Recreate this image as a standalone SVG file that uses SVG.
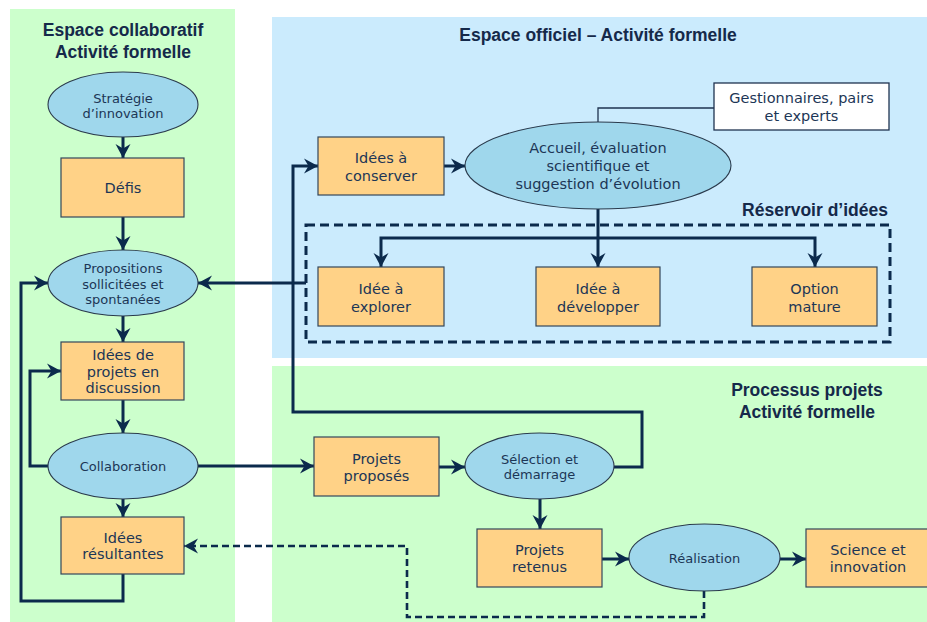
<svg xmlns="http://www.w3.org/2000/svg" width="927" height="622" viewBox="0 0 927 622">
<style>
.panel-g{fill:#ccffcc}
.panel-b{fill:#cbebfd}
.box{fill:#ffd287;stroke:#34465a;stroke-width:1.2}
.ell{fill:#9fd7ec;stroke:#2a3a4c;stroke-width:1.1}
.note{fill:#ffffff;stroke:#1f3350;stroke-width:1.3}
.t{font-family:"DejaVu Sans",Verdana,sans-serif;fill:#1c3656;text-anchor:middle}
.t14{font-size:14.5px}
.t13{font-size:13px}
.title{font-family:"Liberation Sans",Arial,sans-serif;font-weight:bold;font-size:17.5px;fill:#15294a;text-anchor:middle}
.c{fill:none;stroke:#0b2a4c;stroke-width:3;stroke-linejoin:miter}
.thin{fill:none;stroke:#1f3350;stroke-width:1.3}
.dash{fill:none;stroke:#0b2a4c;stroke-width:2.6;stroke-dasharray:7 4}
.res{fill:none;stroke:#0b2a4c;stroke-width:3;stroke-dasharray:9 5}
</style>
<defs>
<marker id="ah" markerUnits="userSpaceOnUse" viewBox="-15 -8 16 16" refX="0" refY="0" markerWidth="16" markerHeight="16" orient="auto">
<path d="M0,0 L-14,-7.5 L-9.5,0 L-14,7.5 Z" fill="#0b2a4c"/>
</marker>
</defs>

<g id="panels">
<rect class="panel-g" x="10" y="9" width="225" height="613"/>
<rect class="panel-b" x="272" y="17" width="655" height="341"/>
<rect class="panel-g" x="272" y="366" width="655" height="256"/>
<text class="title" x="123" y="36">Espace collaboratif</text>
<text class="title" x="123" y="58">Activité formelle</text>
<text class="title" x="598" y="41">Espace officiel – Activité formelle</text>
<text class="title" x="815" y="216">Réservoir d’idées</text>
<text class="title" x="807" y="396">Processus projets</text>
<text class="title" x="807" y="418">Activité formelle</text>
</g>

<g id="reservoir">
<rect class="res" x="306" y="225" width="584" height="117"/>
</g>

<g id="connectors">
<path class="c" d="M123,137 L123,158" marker-end="url(#ah)"/>
<path class="c" d="M123,217 L123,250" marker-end="url(#ah)"/>
<path class="c" d="M123,316 L123,342" marker-end="url(#ah)"/>
<path class="c" d="M123,400 L123,433" marker-end="url(#ah)"/>
<path class="c" d="M123,499 L123,517" marker-end="url(#ah)"/>
<path class="c" d="M123,574 L123,601 L21,601 L21,283 L48,283" marker-end="url(#ah)"/>
<path class="c" d="M48,466 L30,466 L30,371 L61,371" marker-end="url(#ah)"/>
<path class="c" d="M198,466 L314,466" marker-end="url(#ah)"/>
<path class="c" d="M306,283 L198,283" marker-end="url(#ah)"/>
<path class="c" d="M614,467 L642,467 L642,412 L293,412 L293,166 L318,166" marker-end="url(#ah)"/>
<path class="c" d="M444,166 L465,166" marker-end="url(#ah)"/>
<path class="thin" d="M598,122 L598,108 L714,108"/>
<path class="c" d="M598,209 L598,267" marker-end="url(#ah)"/>
<path class="c" d="M598,238 L381,238 L381,267" marker-end="url(#ah)"/>
<path class="c" d="M598,238 L815,238 L815,267" marker-end="url(#ah)"/>
<path class="c" d="M439,467 L465,467" marker-end="url(#ah)"/>
<path class="c" d="M540,499 L540,529" marker-end="url(#ah)"/>
<path class="c" d="M602,559 L629,559" marker-end="url(#ah)"/>
<path class="c" d="M780,559 L806,559" marker-end="url(#ah)"/>
<path class="dash" d="M704,591 L704,617 L407,617 L407,546 L184,546" marker-end="url(#ah)"/>
</g>

<g id="strategie">
<ellipse class="ell" cx="123" cy="104.5" rx="75" ry="32.5"/>
<text class="t t13" x="123" y="103">Stratégie</text>
<text class="t t13" x="123" y="118">d’innovation</text>
</g>
<g id="defis">
<rect class="box" x="61" y="158" width="123" height="59"/>
<text class="t t14" x="123" y="193">Défis</text>
</g>
<g id="propositions">
<ellipse class="ell" cx="123" cy="283" rx="75" ry="33"/>
<text class="t t13" x="123" y="273">Propositions</text>
<text class="t t13" x="123" y="289">sollicitées et</text>
<text class="t t13" x="123" y="304">spontanées</text>
</g>
<g id="idees-projets">
<rect class="box" x="61" y="342" width="123" height="58"/>
<text class="t t14" x="123" y="360">Idées de</text>
<text class="t t14" x="123" y="376.5">projets en</text>
<text class="t t14" x="123" y="393">discussion</text>
</g>
<g id="collaboration">
<ellipse class="ell" cx="123" cy="466" rx="75" ry="33"/>
<text class="t t13" x="123" y="471">Collaboration</text>
</g>
<g id="idees-resultantes">
<rect class="box" x="61" y="517" width="123" height="57"/>
<text class="t t14" x="123" y="543">Idées</text>
<text class="t t14" x="123" y="559">résultantes</text>
</g>

<g id="idees-conserver">
<rect class="box" x="318" y="137" width="126" height="58"/>
<text class="t t14" x="381" y="163">Idées à</text>
<text class="t t14" x="381" y="181">conserver</text>
</g>
<g id="accueil">
<ellipse class="ell" cx="598" cy="165.5" rx="133" ry="43.5"/>
<text class="t t14" x="598" y="153">Accueil, évaluation</text>
<text class="t t14" x="598" y="171">scientifique et</text>
<text class="t t14" x="598" y="189">suggestion d’évolution</text>
</g>
<g id="gestionnaires">
<rect class="note" x="714" y="83" width="175" height="47"/>
<text class="t t14" x="801.5" y="103">Gestionnaires, pairs</text>
<text class="t t14" x="801.5" y="121">et experts</text>
</g>
<g id="idee-explorer">
<rect class="box" x="318" y="267" width="126" height="59"/>
<text class="t t14" x="381" y="294">Idée à</text>
<text class="t t14" x="381" y="312">explorer</text>
</g>
<g id="idee-developper">
<rect class="box" x="536" y="267" width="124" height="59"/>
<text class="t t14" x="598" y="294">Idée à</text>
<text class="t t14" x="598" y="312">développer</text>
</g>
<g id="option-mature">
<rect class="box" x="752" y="267" width="125" height="59"/>
<text class="t t14" x="814.5" y="294">Option</text>
<text class="t t14" x="814.5" y="312">mature</text>
</g>

<g id="projets-proposes">
<rect class="box" x="314" y="437" width="125" height="59"/>
<text class="t t14" x="376.5" y="464">Projets</text>
<text class="t t14" x="376.5" y="481">proposés</text>
</g>
<g id="selection">
<ellipse class="ell" cx="539.5" cy="466" rx="74.5" ry="33"/>
<text class="t t13" x="539.5" y="464">Sélection et</text>
<text class="t t13" x="539.5" y="479">démarrage</text>
</g>
<g id="projets-retenus">
<rect class="box" x="477" y="529" width="125" height="58"/>
<text class="t t14" x="539.5" y="555">Projets</text>
<text class="t t14" x="539.5" y="572">retenus</text>
</g>
<g id="realisation">
<ellipse class="ell" cx="704.5" cy="557.5" rx="75.5" ry="33.5"/>
<text class="t t13" x="704.5" y="563">Réalisation</text>
</g>
<g id="science">
<rect class="box" x="806" y="529" width="124" height="58"/>
<text class="t t14" x="868" y="555">Science et</text>
<text class="t t14" x="868" y="572">innovation</text>
</g>
</svg>
